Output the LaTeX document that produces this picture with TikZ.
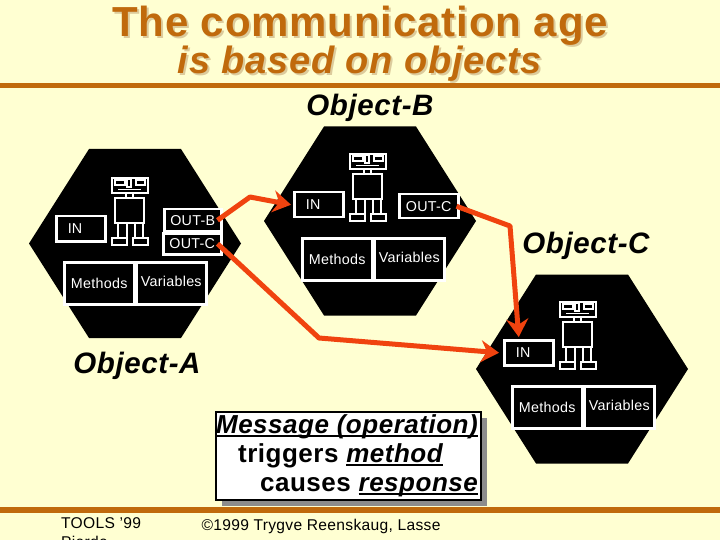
\documentclass[tikz,border=0pt]{standalone}
\usepackage{fontspec}
\setmainfont{Liberation Sans}[LetterSpace=2]
\usepackage{xcolor}
\usetikzlibrary{arrows.meta,shadows}
\definecolor{SlideCream}{HTML}{FFFFD2}
\definecolor{SlideBrown}{HTML}{C06A0C}
\definecolor{SlideTan}{HTML}{DCCB9C}
\definecolor{SlideRed}{HTML}{F0430F}
\definecolor{SlideGrey}{HTML}{8C8C8C}
\newcommand{\pxfont}[1]{\fontsize{#1}{#1}\selectfont}
\newcommand{\slideline}[1]{\leavevmode\setbox0\hbox{#1}\rlap{\rule[-3pt]{\wd0}{2pt}}\box0}
\tikzset{
  portbox/.style={draw=white,fill=black,text=white,line width=2.5pt,inner sep=0pt,anchor=north west,font=\pxfont{14.3}},
  robotline/.style={draw=white,line width=1.5pt},
  msgarrow/.style={draw=SlideRed,line width=5pt,line join=round,-{Stealth[length=18pt,width=22pt,inset=6pt]}},
  objname/.style={font=\pxfont{29.5}\bfseries\itshape,anchor=base},
  titletext/.style={font=\pxfont{42}\bfseries,anchor=base},
  subtitletext/.style={font=\pxfont{38}\bfseries\itshape,anchor=base},
  smallprint/.style={font=\pxfont{15.6},anchor=base west}
}
% hexagon: name-free backdrop, centre given
\newcommand{\hexback}[2]{
  \fill[black] (#1-106,#2) -- (#1-46,#2-94.5) -- (#1+46,#2-94.5) -- (#1+106,#2)
    -- (#1+46,#2+94.5) -- (#1-46,#2+94.5) -- cycle;
}
% robot and the three common boxes, placed from the IN corner
\newcommand{\robotparts}[3]{
  \begin{scope}[shift={(#2,#3)}]
  \draw[robotline] (57,-37) rectangle (93,-22);
  \draw[robotline] (60,-35) rectangle (70,-30);
  \draw[robotline] (72,-36) rectangle (76,-28);
  \draw[robotline] (81,-35) rectangle (90,-30);
  \draw[robotline] (63,-25.5) -- (86,-25.5);
  \draw[robotline] (71,-22) rectangle (78,-17);
  \draw[robotline] (60,-17) rectangle (89,8);
  \draw[robotline] (63,8) rectangle (72,23);
  \draw[robotline] (80,8) rectangle (88,23);
  \draw[robotline] (57,23) rectangle (72,30);
  \draw[robotline] (78,23) rectangle (93,30);
  \node[portbox,minimum width=49pt,minimum height=25pt] (#1in) at (0,0) {\makebox[26pt][l]{IN}};
  \node[portbox,minimum width=70pt,minimum height=42pt] (#1meth) at (8,46) {\raisebox{-2pt}{Methods}};
  \node[portbox,minimum width=70pt,minimum height=42pt] (#1vars) at (80,46) {\raisebox{3pt}{Variables}};
  \end{scope}
}

\begin{document}
\begin{tikzpicture}[x=1pt,y=-1pt]
\path[use as bounding box,fill=SlideCream] (0,0) rectangle (720,540);
\node[titletext,text=SlideTan] (titleshade) at (362,39) {The communication age};
\node[titletext,text=SlideBrown] (title) at (360,37) {The communication age};
\node[subtitletext,text=SlideTan] (subtitleshade) at (362,76) {is based on objects};
\node[subtitletext,text=SlideBrown] (subtitle) at (360,74) {is based on objects};
\fill[SlideBrown] (0,83) rectangle (720,88);
\fill[SlideBrown] (0,507) rectangle (720,513);

\hexback{135}{243.5}
\hexback{370}{221}
\hexback{582}{369}
\robotparts{a}{55}{215}
\robotparts{b}{293}{191}
\robotparts{c}{503}{339}
\node[portbox,minimum width=57pt,minimum height=22pt] (aoutb) at (163,208) {OUT-B};
\node[portbox,minimum width=58pt,minimum height=21pt] (aoutc) at (162,232) {OUT-C};
\node[portbox,minimum width=59pt,minimum height=24pt] (boutc) at (398,193) {\raisebox{-2pt}{OUT-C}};

\node[objname] (objb) at (370,116) {Object-B};
\node[objname] (objc) at (586,253) {Object-C};
\node[objname] (obja) at (137,373) {Object-A};

\draw[msgarrow] ([xshift=-5pt]aoutb.east) -- (250,197) -- ([xshift=-2pt]bin.west);
\draw[msgarrow] ([xshift=-5pt]aoutc.east) -- (319,338) -- ([xshift=-4pt]cin.west);
\draw[msgarrow] ([xshift=-3pt]boutc.east) -- (510,226) -- ([xshift=-10pt,yshift=2pt]cin.north);

\node[draw=black,line width=2pt,fill=white,anchor=north west,minimum width=265pt,minimum height=88pt,inner sep=0pt,
  align=left,font=\fontsize{26}{29.2}\selectfont\bfseries,
  drop shadow={shadow xshift=6pt,shadow yshift=-6pt,fill=SlideGrey,opacity=1}] (message) at (215,411)
  {\slideline{\itshape Message (operation)}\\
   \hspace*{22pt}triggers \slideline{\itshape method}\\
   \hspace*{44pt}causes \slideline{\itshape response}\hspace*{3pt}};

\node[smallprint,align=left,anchor=north west,inner sep=0pt] (tools) at (61,517) {TOOLS '99\\[4pt]Pierde};
\node[smallprint] (copyright) at (198,530) {©1999 Trygve Reenskaug, Lasse};
\end{tikzpicture}
\end{document}
